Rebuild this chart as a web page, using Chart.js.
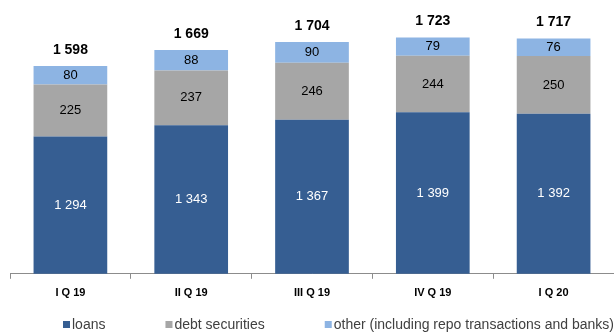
<!DOCTYPE html>
<html>
<head>
<meta charset="utf-8">
<script src="https://cdn.jsdelivr.net/npm/chart.js@4"></script>
<style>
  html, body { margin: 0; padding: 0; background: #fff; }
  #wrap { width: 614px; height: 335px; position: relative; }
</style>
</head>
<body>
<div id="wrap"><canvas id="assetsChart"></canvas></div>
<script>
const quarters = ["I Q 19", "II Q 19", "III Q 19", "IV Q 19", "I Q 20"];
const loans = [1294, 1343, 1367, 1399, 1392];
const debtSecurities = [225, 237, 246, 244, 250];
const other = [80, 88, 90, 79, 76];
const totals = [1598, 1669, 1704, 1723, 1717];

const FONT = "'Liberation Sans', Arial, sans-serif";

// space in thousands, like "1 294"
const fmt = (v) => String(v).replace(/\B(?=(\d{3})+(?!\d))/g, " ");

const barLabels = {
  id: "barLabels",
  afterDatasetsDraw(chart) {
    const ctx = chart.ctx;
    ctx.save();
    ctx.textAlign = "center";
    ctx.textBaseline = "middle";
    chart.data.datasets.forEach((ds, i) => {
      const meta = chart.getDatasetMeta(i);
      meta.data.forEach((bar, j) => {
        const top = bar.y;
        const bottom = Math.min(bar.base, chart.chartArea.bottom);
        ctx.font = "13px " + FONT;
        ctx.fillStyle = i === 0 ? "#ffffff" : "#000000";
        ctx.fillText(fmt(ds.data[j]), bar.x, (top + bottom) / 2);
      });
    });
    // totals above the stack
    const lastMeta = chart.getDatasetMeta(chart.data.datasets.length - 1);
    ctx.font = "bold 14px " + FONT;
    ctx.fillStyle = "#000000";
    lastMeta.data.forEach((bar, j) => {
      ctx.fillText(fmt(totals[j]), bar.x, bar.y - 16);
    });
    ctx.restore();
  },
};

// legend drawn by hand so the gap between items can differ from the row height
const bottomLegend = {
  id: "bottomLegend",
  afterDraw(chart) {
    const ctx = chart.ctx;
    ctx.save();
    ctx.font = "14px " + FONT;
    ctx.textBaseline = "middle";
    const y = 325;
    let x = 63;
    chart.data.datasets.forEach((ds) => {
      ctx.fillStyle = ds.backgroundColor;
      ctx.fillRect(x, y - 4, 7, 7);
      ctx.fillStyle = "#404040";
      ctx.fillText(ds.label, x + 9, y);
      x += 9 + ctx.measureText(ds.label).width + 60;
    });
    ctx.restore();
  },
};

const ctx = document.getElementById("assetsChart").getContext("2d");

window.assetsChart = new Chart(ctx, {
  type: "bar",
  data: {
    labels: quarters,
    datasets: [
      { label: "loans", data: loans, backgroundColor: "#365e92" },
      { label: "debt securities", data: debtSecurities, backgroundColor: "#a6a6a6" },
      { label: "other (including repo transactions and banks)", data: other, backgroundColor: "#8db4e3" },
    ],
  },
  options: {
    responsive: true,
    maintainAspectRatio: false,
    animation: false,
    layout: { padding: { left: 10, right: 0, top: 8, bottom: 27 } },
    datasets: {
      bar: { categoryPercentage: 0.61, barPercentage: 1, borderWidth: 0 },
    },
    scales: {
      x: {
        stacked: true,
        border: { color: "#8c8c8c", width: 1 },
        grid: {
          offset: true,
          drawOnChartArea: false,
          color: "#8c8c8c",
          tickLength: 5,
        },
        ticks: {
          color: "#000",
          padding: 8,
          font: { family: FONT, size: 11, weight: "bold" },
        },
      },
      y: {
        stacked: true,
        display: false,
        min: 700,
        max: 1850,
      },
    },
    plugins: {
      tooltip: { enabled: false },
      legend: { display: false },
    },
  },
  plugins: [barLabels, bottomLegend],
});
</script>
</body>
</html>
